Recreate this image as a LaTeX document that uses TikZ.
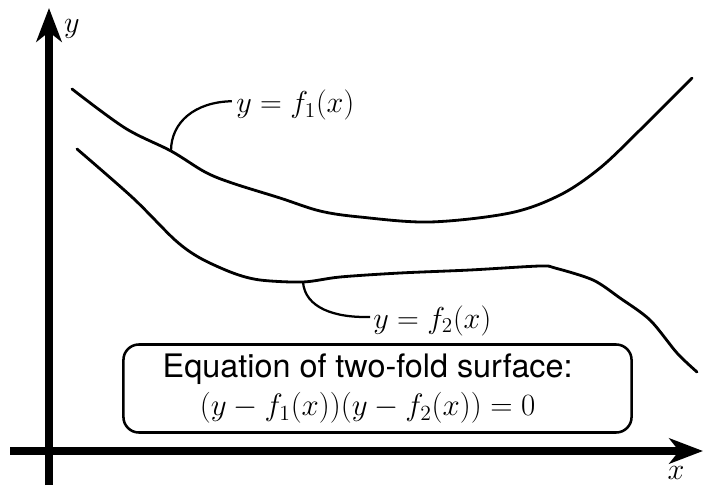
\RequirePackage{fix-cm}
\documentclass[tikz,border=0pt]{standalone}
\usepackage{fontspec}
\setsansfont{TeX Gyre Heros}
\usetikzlibrary{arrows.meta, positioning}

\begin{document}
\begin{tikzpicture}[
  x=0.025cm, y=-0.025cm,
  axis/.style={line width=5pt, -{Stealth[length=24pt, width=18pt, inset=7pt]}},
  curve/.style={line width=2pt, line cap=round, line join=round},
  leader/.style={line width=1.6pt},
  lbl/.style={font=\fontsize{21.5}{24}\selectfont, inner sep=0pt},
  eqbox/.style={draw, line width=1.8pt, rounded corners=11pt, minimum width=12.7cm, minimum height=2.2cm, align=center, inner sep=0pt, font=\fontsize{22}{27}\selectfont}
]
\useasboundingbox (0,0) rectangle (704,486);

% axes
\draw[axis] (49,485) -- (49,8);
\draw[axis] (10,451) -- (703,451);
\node[lbl] (ylab) at (72,29) {$y$};
\node[lbl] (xlab) at (676,473) {$x$};

% the two branches
\draw[curve] plot[smooth, tension=0.55] coordinates {(72,89) (125,128) (171,151) (205,172) (232,183) (280,198) (320,211) (360,217) (430,222) (510,213) (560,195) (600,168) (640,130) (692,78)};
\draw[curve] plot[smooth, tension=0.5] coordinates {(77,149) (133,198) (175,240) (200,258) (233,273) (260,280) (303,282) (340,277) (400,273) (470,270) (540,266) (555,268) (593,280) (620,298) (650,320) (677,353) (697,372)};
\coordinate (fonept) at (171,151);
\coordinate (ftwopt) at (303,282);

% labels
\node[lbl, anchor=base west] (fone) at (236,113) {$y=f_1(x)$};
\node[lbl, anchor=base west] (ftwo) at (373,328) {$y=f_2(x)$};
\draw[leader] ([xshift=-3pt, yshift=3pt]fone.west) .. controls (195,102) and (171,122) .. (fonept);
\draw[leader] (ftwopt) .. controls (305,308) and (335,318) .. ([xshift=-2pt, yshift=2.5pt]ftwo.west);

% equation box
\node[eqbox] (eq) at (377.5,388.5) {{\sffamily\fontsize{23}{27}\selectfont Equation of two-fold surface:}\hspace*{14pt}\\ $(y-f_1(x))(y-f_2(x))=0$\hspace*{14pt}};
\end{tikzpicture}
\end{document}
